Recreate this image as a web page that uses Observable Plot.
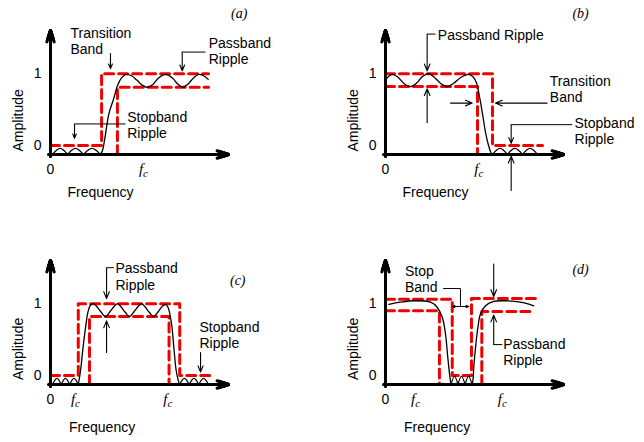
<!DOCTYPE html>
<html><head><meta charset="utf-8">
<script src="https://cdn.jsdelivr.net/npm/d3@7"></script>
<script src="https://cdn.jsdelivr.net/npm/@observablehq/plot@0.6"></script>
<style>
body{margin:0;background:#fff;}
#root{position:relative;width:644px;height:442px;overflow:hidden;background:#fff;}
</style></head><body><div id="root"></div>
<script>
// ---------- shared scale domains ----------
const freqDomain = [0, 10];
const ampDomain = [-0.125, 1.6];
const yTickValues = [0, 1];
const yTickLabels = ["0", "1"];

// rows: [f, amplitude, group]
// ---------- (a) high-pass ----------
const aSpec = [[0,0,0],[2.87,0,0],[2.87,1,0],[8.88,1,0],
               [3.76,-0.125,1],[3.76,0.81,1],[8.88,0.81,1]];
const aStopRipple = [[0.11,-0.125,0],[0.54,-0.04,0],[0.96,-0.125,0],
                     [0.96,-0.125,1],[1.40,-0.04,1],[1.85,-0.125,1],
                     [1.85,-0.125,2],[2.33,-0.04,2],[2.81,-0.125,2]];
const aResponse = [[2.81,-0.125,0],[2.92,-0.07,0],[3.04,0.08,0],[3.28,0.44,0],[3.56,0.66,0],[3.76,0.83,0],
                   [3.99,0.94,0],[4.24,0.99,0],[4.55,0.97,0],[4.85,0.91,0],[5.15,0.84,0],[5.45,0.81,0],
                   [5.75,0.85,0],[6.07,0.94,0],[6.46,0.99,0],[6.85,0.94,0],[7.13,0.86,0],[7.43,0.81,0],
                   [7.75,0.86,0],[8.03,0.94,0],[8.33,0.99,0],[8.60,0.97,0],[8.86,0.92,0]];
const aLabels = [{f:1.12, amp:1.45, text:"Transition\nBand"},
                 {f:8.89, amp:1.32, text:"Passband\nRipple"},
                 {f:4.31, amp:0.285, text:"Stopband\nRipple"}];
const aLeaders = [[8.71,1.30,7.40,1.30],[4.21,0.30,1.35,0.30]];
const aArrows = [[3.37,1.28,3.37,1.07],[7.40,1.30,7.40,1.04],[1.35,0.30,1.35,0.10]];
const aTag = {f:10.6, amp:1.83, text:"(a)"};
const aXTicks = [0, 5.22];
const aXTickLabels = ["0", "fc"];

// ---------- (b) low-pass ----------
const bSpec = [[0,1,0],[6.01,1,0],[6.01,0,0],[8.82,0,0],
               [0,0.82,1],[5.17,0.82,1],[5.17,-0.125,1]];
const bStopRipple = [[6.01,-0.125,0],[6.43,-0.04,0],[6.85,-0.125,0],
                     [6.85,-0.125,1],[7.27,-0.04,1],[7.70,-0.125,1],
                     [7.70,-0.125,2],[8.12,-0.04,2],[8.54,-0.125,2]];
const bResponse = [[0.06,0.93,0],[0.38,0.99,0],[0.70,0.95,0],[1.05,0.86,0],[1.40,0.82,0],[1.75,0.87,0],
                   [2.08,0.96,0],[2.43,1.0,0],[2.78,0.94,0],[3.12,0.86,0],[3.47,0.82,0],[3.85,0.87,0],
                   [4.25,0.95,0],[4.66,0.99,0],[4.90,0.96,0],[5.10,0.88,0],[5.28,0.68,0],[5.45,0.44,0],
                   [5.62,0.18,0],[5.79,0.0,0],[5.93,-0.1,0],[6.01,-0.125,0]];
const bLabels = [{f:2.94, amp:1.54, text:"Passband Ripple"},
                 {f:9.23, amp:0.79, text:"Transition\nBand"},
                 {f:10.62, amp:0.20, text:"Stopband\nRipple"}];
const bLeaders = [[2.81,1.55,2.34,1.55],[10.49,0.29,7.06,0.29]];
const bArrows = [[2.34,1.55,2.34,1.04],[2.34,0.32,2.34,0.79],[3.65,0.59,4.87,0.59],
                 [9.08,0.59,6.18,0.59],[7.06,0.29,7.06,0.03],[7.06,-0.625,7.06,-0.15]];
const bTag = {f:10.96, amp:1.83, text:"(b)"};
const bXTicks = [0, 5.24];
const bXTickLabels = ["0", "fc"];

// ---------- (c) band-pass ----------
const cSpec = [[0,0,0],[1.56,0,0],[1.56,1,0],[7.26,1,0],[7.26,0,0],[8.95,0,0],
               [2.19,-0.125,1],[2.19,0.82,1],[6.66,0.82,1],[6.66,-0.125,1]];
const cStopRipple = [[0.11,-0.125,0],[0.36,-0.04,0],[0.60,-0.125,0],
                     [0.60,-0.125,1],[0.84,-0.04,1],[1.08,-0.125,1],
                     [1.08,-0.125,2],[1.32,-0.04,2],[1.56,-0.125,2],
                     [7.25,-0.125,3],[7.52,-0.04,3],[7.79,-0.125,3],
                     [7.79,-0.125,4],[8.06,-0.04,4],[8.33,-0.125,4],
                     [8.33,-0.125,5],[8.60,-0.04,5],[8.88,-0.125,5]];
const cResponse = [[1.56,-0.125,0],[1.69,0.07,0],[1.81,0.35,0],[1.97,0.67,0],[2.12,0.90,0],[2.25,0.98,0],
                   [2.42,1.0,0],[2.60,0.96,0],[2.85,0.88,0],[3.09,0.82,0],[3.32,0.88,0],[3.57,0.96,0],
                   [3.76,1.0,0],[3.95,0.96,0],[4.20,0.88,0],[4.44,0.82,0],[4.67,0.88,0],[4.92,0.96,0],
                   [5.11,1.0,0],[5.30,0.96,0],[5.55,0.88,0],[5.79,0.82,0],[6.03,0.88,0],[6.27,0.96,0],
                   [6.46,0.99,0],[6.60,0.95,0],[6.80,0.72,0],[6.93,0.39,0],[7.06,0.07,0],[7.18,-0.07,0],
                   [7.25,-0.125,0]];
const cLabels = [{f:3.65, amp:1.38, text:"Passband\nRipple"},
                 {f:8.37, amp:0.56, text:"Stopband\nRipple"}];
const cLeaders = [[3.56,1.50,3.15,1.50]];
const cArrows = [[3.15,1.50,3.15,1.07],[3.15,0.32,3.15,0.76],[8.43,0.32,8.43,0.05]];
const cTag = {f:10.52, amp:1.32, text:"(c)"};
const cXTicks = [0, 1.40, 6.59];
const cXTickLabels = ["0", "fc", "fc"];

// ---------- (d) band-stop ----------
const dSpec = [[0,1.06,0],[3.75,1.06,0],[3.75,0,0],[4.83,0,0],[4.83,1.07,0],[8.48,1.07,0],
               [0,0.90,1],[3.03,0.90,1],[3.03,-0.125,1],
               [5.41,-0.125,2],[5.41,0.89,2],[8.33,0.89,2]];
const dStopRipple = [[3.68,-0.125,0],[3.875,-0.01,0],[4.07,-0.125,0],
                     [4.07,-0.125,1],[4.27,-0.01,1],[4.47,-0.125,1],
                     [4.47,-0.125,2],[4.665,-0.01,2],[4.86,-0.125,2]];
const dResponse = [[0.19,0.99,0],[0.84,1.02,0],[1.59,1.04,0],[2.53,1.02,0],[2.90,0.95,0],[3.19,0.81,0],
                   [3.37,0.58,0],[3.50,0.25,0],[3.60,0.02,0],[3.68,-0.125,0],
                   [4.86,-0.125,1],[4.92,-0.05,1],[4.96,0.12,1],[5.06,0.39,1],[5.19,0.67,1],[5.34,0.86,1],
                   [5.62,0.97,1],[6.08,1.03,1],[6.65,1.04,1],[7.58,1.02,1],[8.33,0.97,1]];
const dLabels = [{f:1.09, amp:1.35, text:"Stop\nBand"},
                 {f:6.61, amp:0.33, text:"Passband\nRipple"}];
const dLeaders = [[3.24,1.21,4.21,1.21],[4.21,1.21,4.21,0.96],[6.56,0.43,6.08,0.43]];
const dArrows = [[4.21,0.96,3.75,0.96],[4.21,0.96,4.68,0.96],[6.08,1.55,6.08,1.10],[6.08,0.43,6.08,0.84]];
const dTag = {f:10.96, amp:1.48, text:"(d)"};
const dXTicks = [0, 1.69, 6.56];
const dXTickLabels = ["0", "fc", "fc"];

// axis titles
const ampTitleTop = {f:-1.8, amp:0.35, text:"Amplitude"};
const ampTitleBottom = {f:-1.8, amp:0.37, text:"Amplitude"};
const freqTitleTop = {f:2.81, amp:-0.66, text:"Frequency"};
const freqTitleBottom = {f:2.9, amp:-0.72, text:"Frequency"};

// axis arrows (data extents)
const axisLines = [[0,-0.146,0,1.6],[-0.084,-0.125,10,-0.125]];
// Plot's headLength is relative to stroke width; several nested heads give a solid head
const axisHeadLengths = [6, 5, 4, 3, 2];

const RED = "#f20000";
const FONT = "'Liberation Sans', Arial, Helvetica, sans-serif";
const SERIF = "'Liberation Serif', 'Times New Roman', serif";
const X0 = d => d[0], Y1 = d => d[1], G = d => d[2];

function drawPanel(p) {
  const xLabelMap = new Map(p.xTicks.map((t, i) => [t, p.xTickLabels[i]]));
  const yLabelMap = new Map(yTickValues.map((t, i) => [t, yTickLabels[i]]));
  const axisMarks = axisHeadLengths.map(h => Plot.arrow(axisLines, {
    x1: d=>d[0], y1: d=>d[1], x2: d=>d[2], y2: d=>d[3], stroke: "#000",
    strokeWidth: 3, headLength: h, headAngle: 36}));
  const svg = Plot.plot({
    width: 309, height: p.height,
    marginLeft: 50, marginRight: 81, marginTop: 30, marginBottom: p.height - 154,
    x: {domain: freqDomain},
    y: {domain: ampDomain},
    style: {fontFamily: FONT, fontSize: "14px", color: "#000", background: "transparent", overflow: "visible"},
    marks: [
      Plot.line(p.spec, {x: X0, y: Y1, z: G, stroke: RED, strokeWidth: 3, strokeDasharray: "9,5"}),
      Plot.line(p.stop, {x: X0, y: Y1, z: G, curve: "natural", stroke: "#000", strokeWidth: 1.2}),
      Plot.line(p.resp, {x: X0, y: Y1, z: G, curve: "catmull-rom", stroke: "#000", strokeWidth: 1.3}),
      ...axisMarks,
      Plot.axisY({ticks: yTickValues, tickFormat: d => yLabelMap.get(d), tickSize: 0, tickPadding: 9, fontSize: 14, label: null}),
      Plot.axisX({ticks: p.xTicks, tickFormat: d => xLabelMap.get(d), tickSize: 0, tickPadding: 10, fontSize: 14, label: null}),
      Plot.link(p.leaders, {x1: d=>d[0], y1: d=>d[1], x2: d=>d[2], y2: d=>d[3], stroke: "#000", strokeWidth: 1}),
      Plot.arrow(p.arrows, {x1: d=>d[0], y1: d=>d[1], x2: d=>d[2], y2: d=>d[3], stroke: "#000",
        strokeWidth: 1.1, headLength: 10, headAngle: 45}),
      Plot.text(p.labels, {x: "f", y: "amp", text: "text", textAnchor: "start", fontSize: 14, lineHeight: 1.15, fill: "#000"}),
      Plot.text([p.tag], {x: "f", y: "amp", text: "text", fontSize: 14, fontStyle: "italic", fontFamily: SERIF, fill: "#000"}),
      Plot.text([p.ampTitle], {x: "f", y: "amp", text: "text", rotate: -90, fontSize: 14, fill: "#000"}),
      Plot.text([p.freqTitle], {x: "f", y: "amp", text: "text", fontSize: 14, fill: "#000"})
    ]
  });
  // italic f with subscript c
  const ns = "http://www.w3.org/2000/svg";
  svg.querySelectorAll("text").forEach(t => {
    if (t.textContent === "fc") {
      t.textContent = "";
      const f = document.createElementNS(ns, "tspan");
      f.setAttribute("font-family", SERIF);
      f.setAttribute("font-style", "italic");
      f.setAttribute("font-size", "15");
      f.textContent = "f";
      const c = document.createElementNS(ns, "tspan");
      c.setAttribute("font-family", SERIF);
      c.setAttribute("font-style", "italic");
      c.setAttribute("font-size", "11");
      c.setAttribute("dy", "3");
      c.textContent = "c";
      t.append(f, c);
    }
  });
  svg.style.position = "absolute";
  svg.style.left = p.left + "px";
  svg.style.top = p.top + "px";
  document.getElementById("root").append(svg);
}

drawPanel({left: 0, top: 0, height: 230, spec: aSpec, stop: aStopRipple, resp: aResponse,
  labels: aLabels, leaders: aLeaders, arrows: aArrows, tag: aTag, xTicks: aXTicks, xTickLabels: aXTickLabels,
  ampTitle: ampTitleTop, freqTitle: freqTitleTop});
drawPanel({left: 335, top: 0, height: 230, spec: bSpec, stop: bStopRipple, resp: bResponse,
  labels: bLabels, leaders: bLeaders, arrows: bArrows, tag: bTag, xTicks: bXTicks, xTickLabels: bXTickLabels,
  ampTitle: ampTitleTop, freqTitle: freqTitleTop});
drawPanel({left: 0, top: 230, height: 212, spec: cSpec, stop: cStopRipple, resp: cResponse,
  labels: cLabels, leaders: cLeaders, arrows: cArrows, tag: cTag, xTicks: cXTicks, xTickLabels: cXTickLabels,
  ampTitle: ampTitleBottom, freqTitle: freqTitleBottom});
drawPanel({left: 335, top: 230, height: 212, spec: dSpec, stop: dStopRipple, resp: dResponse,
  labels: dLabels, leaders: dLeaders, arrows: dArrows, tag: dTag, xTicks: dXTicks, xTickLabels: dXTickLabels,
  ampTitle: ampTitleBottom, freqTitle: freqTitleBottom});
</script></body></html>
